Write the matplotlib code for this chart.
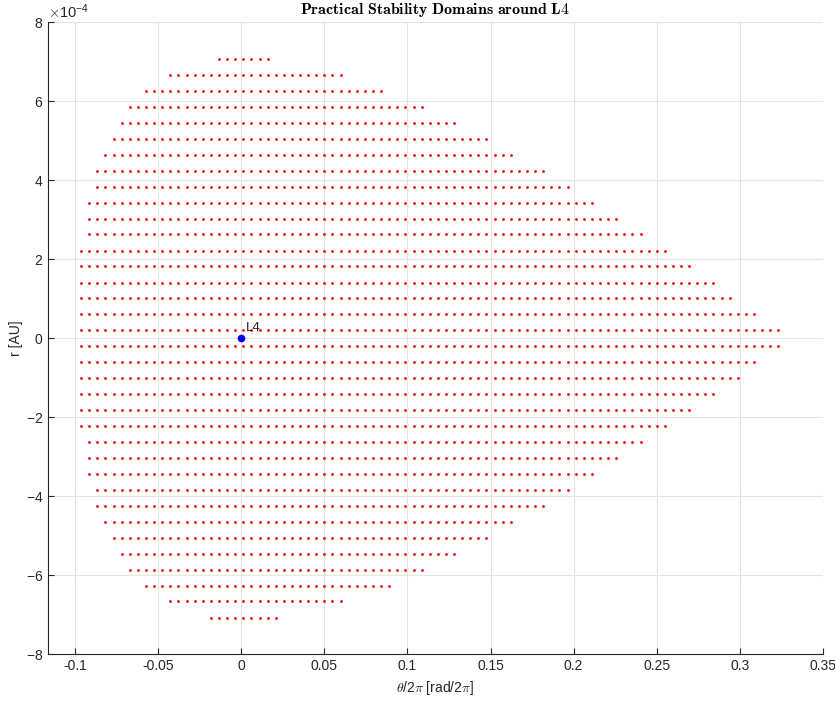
import numpy as np
import matplotlib
matplotlib.use("Agg")
import matplotlib.pyplot as plt
from matplotlib.ticker import FuncFormatter, ScalarFormatter

plt.rcParams['font.family'] = ['Liberation Sans', 'DejaVu Sans']
plt.rcParams['axes.unicode_minus'] = False
plt.rcParams['mathtext.fontset'] = 'cm'

# stable initial conditions, sampled on a regular (theta, r) grid
theta_step = 0.004878     # grid spacing in theta/2pi
theta_offset = 0.0012     # column 0 position in theta/2pi

# radial offset of each grid row [AU], top to bottom
r_rows = [7.07e-4, 6.66e-4, 6.26e-4, 5.86e-4, 5.45e-4, 5.05e-4,
          4.64e-4, 4.24e-4, 3.84e-4, 3.43e-4, 3.03e-4, 2.63e-4,
          2.22e-4, 1.82e-4, 1.41e-4, 1.01e-4, 0.61e-4, 0.20e-4,
          -0.20e-4, -0.61e-4, -1.01e-4, -1.41e-4, -1.82e-4, -2.22e-4,
          -2.63e-4, -3.03e-4, -3.43e-4, -3.84e-4, -4.24e-4, -4.64e-4,
          -5.05e-4, -5.45e-4, -5.86e-4, -6.26e-4, -6.66e-4, -7.07e-4]

# first and last stable column of each row
col_first = [-3, -9, -12, -14, -15, -16, -17, -18, -18, -19, -19, -19,
             -20, -20, -20, -20, -20, -20, -20, -20, -20, -20, -20, -20,
             -19, -19, -19, -18, -18, -17, -16, -15, -14, -12, -9, -4]
col_last = [3, 12, 17, 22, 26, 30, 33, 37, 40, 43, 46, 49,
            52, 55, 58, 60, 63, 66, 66, 63, 61, 58, 55, 52,
            49, 46, 43, 40, 37, 33, 30, 26, 22, 18, 12, 4]

l4_theta = 0.0
l4_r = 0.0

xs, ys = [], []
for r, c0, c1 in zip(r_rows, col_first, col_last):
    cols = np.arange(c0, c1 + 1)
    xs.extend(theta_offset + theta_step * cols)
    ys.extend([r] * len(cols))

fig = plt.figure(figsize=(8.35, 7.03), dpi=100)
ax = fig.add_axes([0.0575, 0.0693, 0.9281, 0.899])

ax.plot(xs, ys, 'o', color='red', ms=2.0, mew=0, zorder=3)
ax.plot(l4_theta, l4_r, 'o', color='blue', ms=5.5, mew=0, zorder=4)
ax.text(l4_theta + 0.0025, l4_r + 0.1e-4, 'L4', fontsize=9.5, color='#262626',
        ha='left', va='bottom')

ax.set_xlim(-0.1163, 0.35)
ax.set_ylim(-8e-4, 8e-4)
ax.set_xticks(np.arange(-0.1, 0.351, 0.05))
ax.set_yticks(np.arange(-8e-4, 8.01e-4, 2e-4))
ax.xaxis.set_major_formatter(FuncFormatter(lambda v, p: '%g' % round(v, 3)))
fmt = ScalarFormatter(useMathText=True)
fmt.set_powerlimits((-3, 3))
ax.yaxis.set_major_formatter(fmt)
ax.yaxis.get_offset_text().set_fontsize(10.5)
ax.yaxis.get_offset_text().set_color('#262626')

ax.grid(True, color='#e3e3e3', lw=0.8)
ax.set_axisbelow(True)
for side in ('top', 'right'):
    ax.spines[side].set_visible(False)
for side in ('left', 'bottom'):
    ax.spines[side].set_color('#262626')
    ax.spines[side].set_linewidth(0.8)
ax.tick_params(direction='in', length=4, width=0.8, colors='#262626',
               labelsize=10)

ax.set_xlabel(r'$\theta$/2$\pi$ [rad/2$\pi$]', fontsize=10, color='#262626')
ax.set_ylabel('r [AU]', fontsize=10, color='#262626', labelpad=2)
ax.set_title(r'$\mathbf{Practical\ Stability\ Domains\ around\ L4}$',
             fontsize=11.5, color='#000000', pad=6)

fig.savefig('out.png', dpi=100)
